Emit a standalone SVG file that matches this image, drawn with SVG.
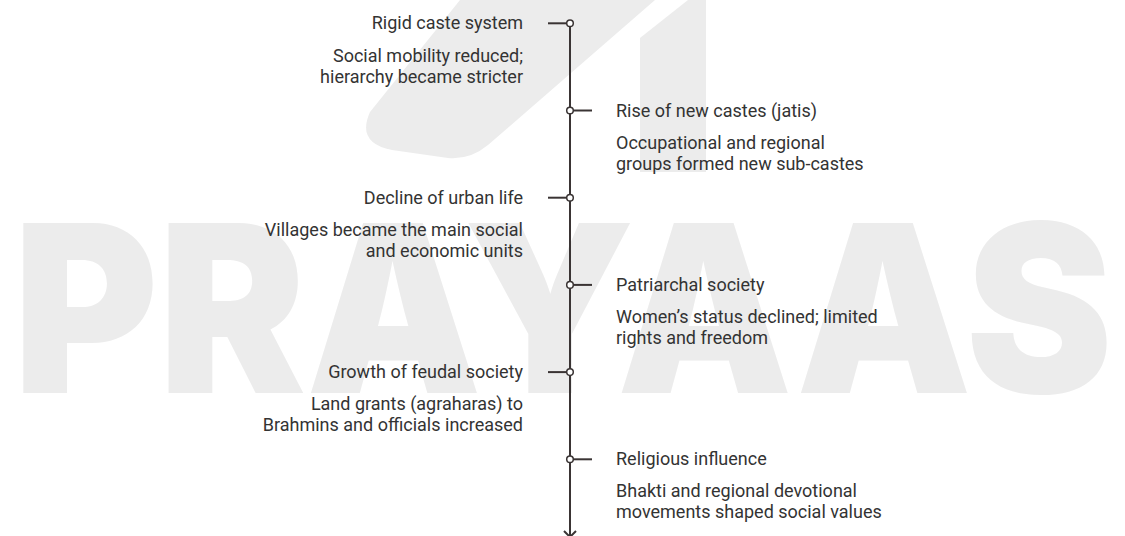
<svg xmlns="http://www.w3.org/2000/svg" width="1125" height="536" viewBox="0 0 1125 536">
<style>
.wm{fill:#ececec}
.wmt{font-family:"Inter","Open Sans",sans-serif;font-weight:900;font-size:234px;fill:#ececec}
.t{font-family:Roboto,"Liberation Sans",sans-serif;font-size:18px;fill:#333}
.l{text-anchor:end}
.axis{stroke:#3a3434;stroke-width:2;fill:none}
.tick{stroke:#3a3434;stroke-width:2}
.dot{fill:#fff;stroke:#3a3434;stroke-width:1.5}
</style>
<rect width="1125" height="536" fill="#fff"/>
<g id="watermark">
<path class="wm" d="M460,0 L655,0 L488,145 Q470,160 448,158 L392,150 Q356,143 370,112 Z"/>
<path class="wm" d="M688,0 L706,0 L706,172 L640,172 L640,38 Z"/>
<text class="wmt" x="13" y="393" textLength="1100" lengthAdjust="spacingAndGlyphs">PRAYAAS</text>
</g>
<g id="connectors">
<line class="axis" x1="570" y1="23" x2="570" y2="537"/>
<polyline class="axis" points="564,531 570,537 576,531"/>
</g>
<g id="node1">
<line class="tick" x1="548" y1="23.3" x2="567" y2="23.3"/>
<circle class="dot" cx="570" cy="23.3" r="3.3"/>
<text class="t l" x="523" y="29.3">Rigid caste system</text>
<text class="t l" x="523" y="62.3">Social mobility reduced;</text>
<text class="t l" x="523" y="82.5">hierarchy became stricter</text>
</g>
<g id="node2">
<line class="tick" x1="573" y1="110.5" x2="592" y2="110.5"/>
<circle class="dot" cx="570" cy="110.5" r="3.3"/>
<text class="t" x="616" y="116.5">Rise of new castes (jatis)</text>
<text class="t" x="616" y="148.8">Occupational and regional</text>
<text class="t" x="616" y="169.5">groups formed new sub-castes</text>
</g>
<g id="node3">
<line class="tick" x1="548" y1="197.7" x2="567" y2="197.7"/>
<circle class="dot" cx="570" cy="197.7" r="3.3"/>
<text class="t l" x="523" y="203.7">Decline of urban life</text>
<text class="t l" x="523" y="235.5">Villages became the main social</text>
<text class="t l" x="523" y="256.5">and economic units</text>
</g>
<g id="node4">
<line class="tick" x1="573" y1="284.9" x2="592" y2="284.9"/>
<circle class="dot" cx="570" cy="284.9" r="3.3"/>
<text class="t" x="616" y="290.9">Patriarchal society</text>
<text class="t" x="616" y="323">Women’s status declined; limited</text>
<text class="t" x="616" y="344">rights and freedom</text>
</g>
<g id="node5">
<line class="tick" x1="548" y1="372.1" x2="567" y2="372.1"/>
<circle class="dot" cx="570" cy="372.1" r="3.3"/>
<text class="t l" x="523" y="378.1">Growth of feudal society</text>
<text class="t l" x="523" y="409.5">Land grants (agraharas) to</text>
<text class="t l" x="523" y="430.5">Brahmins and officials increased</text>
</g>
<g id="node6">
<line class="tick" x1="573" y1="459.3" x2="592" y2="459.3"/>
<circle class="dot" cx="570" cy="459.3" r="3.3"/>
<text class="t" x="616" y="465.3">Religious influence</text>
<text class="t" x="616" y="497">Bhakti and regional devotional</text>
<text class="t" x="616" y="518">movements shaped social values</text>
</g>
</svg>
